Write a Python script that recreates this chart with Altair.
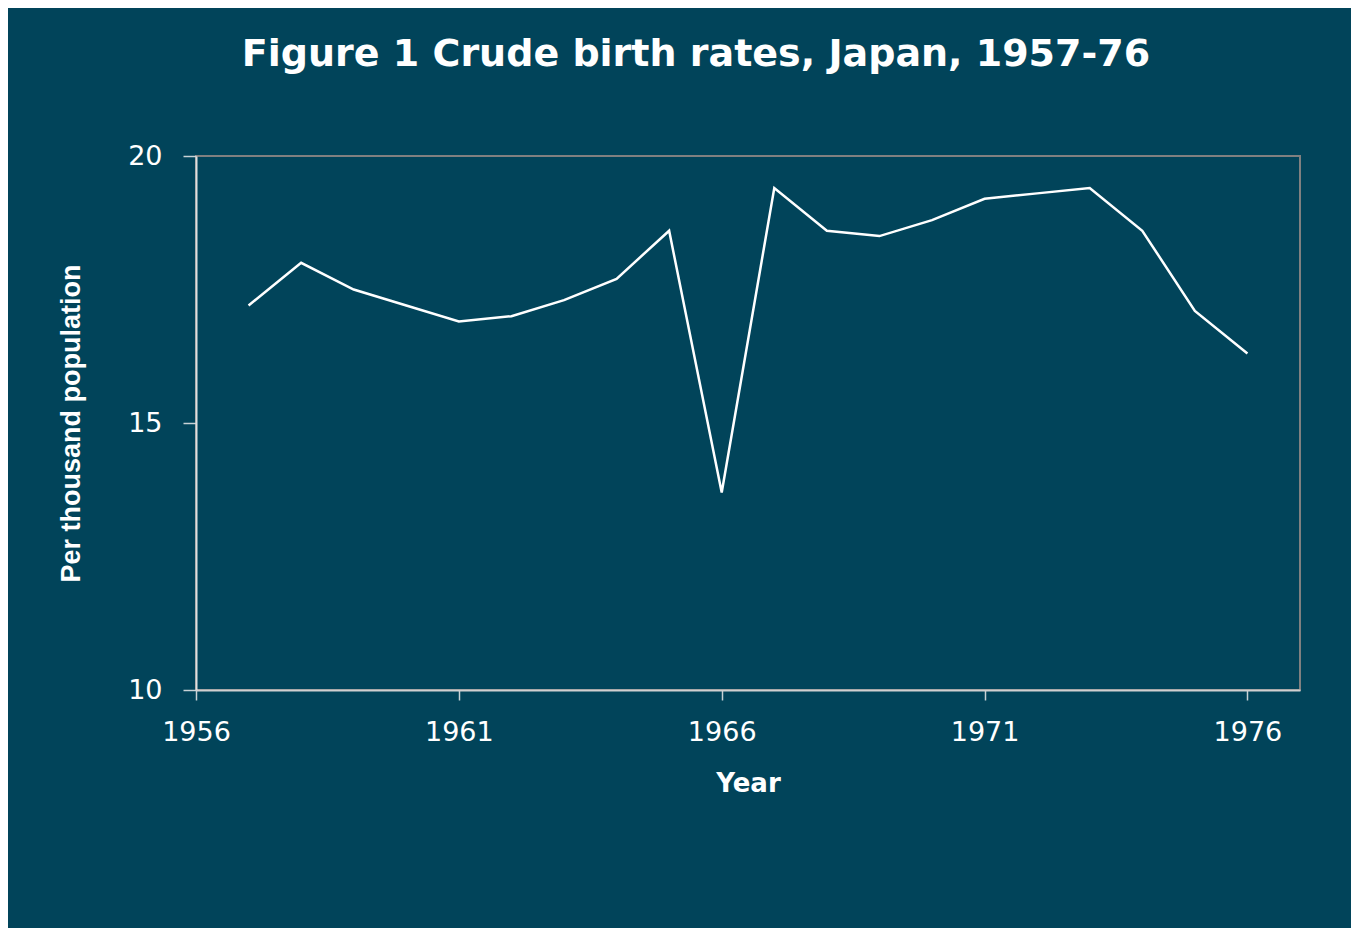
import altair as alt
import pandas as pd

years = [1957, 1958, 1959, 1960, 1961, 1962, 1963, 1964, 1965, 1966,
         1967, 1968, 1969, 1970, 1971, 1972, 1973, 1974, 1975, 1976]
rates = [17.2, 18.0, 17.5, 17.2, 16.9, 17.0, 17.3, 17.7, 18.6, 13.7,
         19.4, 18.6, 18.5, 18.8, 19.2, 19.3, 19.4, 18.6, 17.1, 16.3]
x_ticks = [1956, 1961, 1966, 1971, 1976]
y_ticks = [10, 15, 20]

df = pd.DataFrame({"Year": years, "Rate": rates})

BG = "#01445A"

line = alt.Chart(df).mark_line(color="white", strokeWidth=2.5).encode(
    x=alt.X(
        "Year:Q",
        scale=alt.Scale(domain=[1956, 1977], nice=False, zero=False),
        axis=alt.Axis(
            values=x_ticks,
            format="d",
            title="Year",
            titleFont="DejaVu Sans",
            titleFontSize=26,
            titleFontWeight="bold",
            titleColor="white",
            titleY=80,
            titleBaseline="top",
            labelFont="DejaVu Sans",
            labelFontSize=27,
            labelColor="white",
            labelPadding=19,
            labelFlush=False,
            tickSize=10,
            tickColor="#c8d2d6",
            tickWidth=1.5,
            domainColor="#d0d0d0",
            domainWidth=2,
            grid=False,
        ),
    ),
    y=alt.Y(
        "Rate:Q",
        scale=alt.Scale(domain=[10, 20], nice=False, zero=False),
        axis=alt.Axis(
            values=y_ticks,
            title="Per thousand population",
            titleFont="Liberation Sans",
            titleFontSize=27,
            titleFontWeight="bold",
            titleColor="white",
            titleX=-125,
            titleBaseline="middle",
            labelFont="DejaVu Sans",
            labelFontSize=27,
            labelColor="white",
            labelPadding=21,
            labelFlush=False,
            tickSize=13,
            tickColor="#c8d2d6",
            tickWidth=1.5,
            domainColor="#e0e0e0",
            domainWidth=2,
            grid=False,
        ),
    ),
)

chart = line.properties(
    width=1104,
    height=534,
    background=BG,
    padding={"left": 188, "top": 148, "right": 51, "bottom": 238},
    autosize=alt.AutoSizeParams(type="none"),
    title=alt.TitleParams(
        text="Figure 1 Crude birth rates, Japan, 1957-76",
        font="DejaVu Sans",
        fontSize=38,
        fontWeight="bold",
        color="white",
        anchor="middle",
        frame="group",
        dx=-52,
        baseline="alphabetic",
        offset=38,
    ),
).configure_view(
    stroke="#808080",
    strokeWidth=2,
)

chart.save("out.html", embed_options={"renderer": "svg", "actions": False})
